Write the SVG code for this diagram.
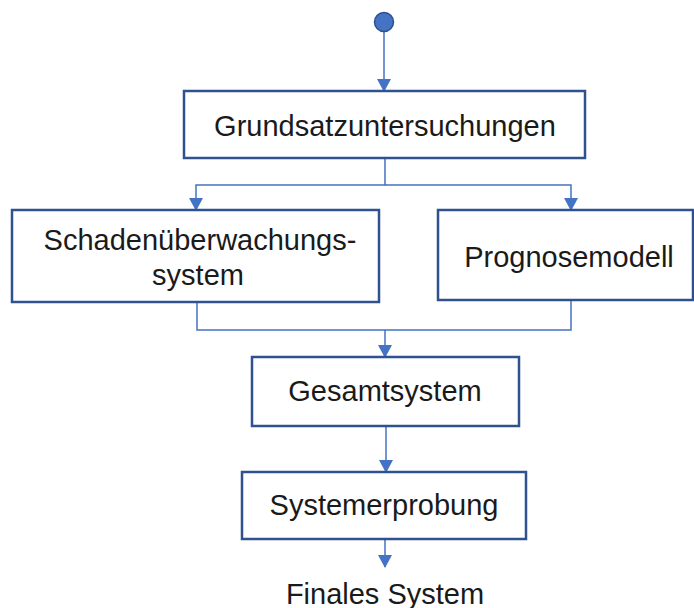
<svg xmlns="http://www.w3.org/2000/svg" width="694" height="608" viewBox="0 0 694 608">
  <style>
    .box { fill: #ffffff; stroke: #2F528F; stroke-width: 2.5; }
    .lbl { font-family: "Liberation Sans", Arial, sans-serif; font-size: 29px; fill: #1a1a1a; text-anchor: middle; }
    .wire { fill: none; stroke: #4472C4; stroke-width: 1.5; }
  </style>
  <defs>
    <marker id="arrow" markerWidth="14" markerHeight="14" refX="12" refY="7" orient="auto" markerUnits="userSpaceOnUse">
      <path d="M0,0 L13,7 L0,14 Z" fill="#4472C4"/>
    </marker>
  </defs>
  <rect width="694" height="608" fill="#ffffff"/>

  <g id="connectors">
    <path class="wire" d="M384,32 V91" marker-end="url(#arrow)"/>
    <path class="wire" d="M385,158 V185 H196 V210" marker-end="url(#arrow)"/>
    <path class="wire" d="M385,185 H571 V210" marker-end="url(#arrow)"/>
    <path class="wire" d="M197,302 V330 H571 V300"/>
    <path class="wire" d="M385,330 V357" marker-end="url(#arrow)"/>
    <path class="wire" d="M386,426 V472" marker-end="url(#arrow)"/>
    <path class="wire" d="M385,539 V567" marker-end="url(#arrow)"/>
  </g>

  <g id="start">
    <circle cx="384" cy="22" r="9.5" fill="#4472C4" stroke="#2F528F" stroke-width="1.5"/>
  </g>

  <g id="grundsatz">
    <rect class="box" x="184" y="91" width="401" height="67"/>
    <text class="lbl" x="385" y="136">Grundsatzuntersuchungen</text>
  </g>

  <g id="schaden">
    <rect class="box" x="12" y="210" width="367" height="92"/>
    <text class="lbl" x="200" y="250">Schadenüberwachungs-</text>
    <text class="lbl" x="198" y="285">system</text>
  </g>

  <g id="prognose">
    <rect class="box" x="438" y="210" width="255" height="90"/>
    <text class="lbl" x="569" y="267">Prognosemodell</text>
  </g>

  <g id="gesamt">
    <rect class="box" x="252" y="357" width="267" height="69"/>
    <text class="lbl" x="385" y="401">Gesamtsystem</text>
  </g>

  <g id="erprobung">
    <rect class="box" x="242" y="472" width="284" height="67"/>
    <text class="lbl" x="384" y="515">Systemerprobung</text>
  </g>

  <g id="final">
    <text class="lbl" x="385" y="604">Finales System</text>
  </g>
</svg>
